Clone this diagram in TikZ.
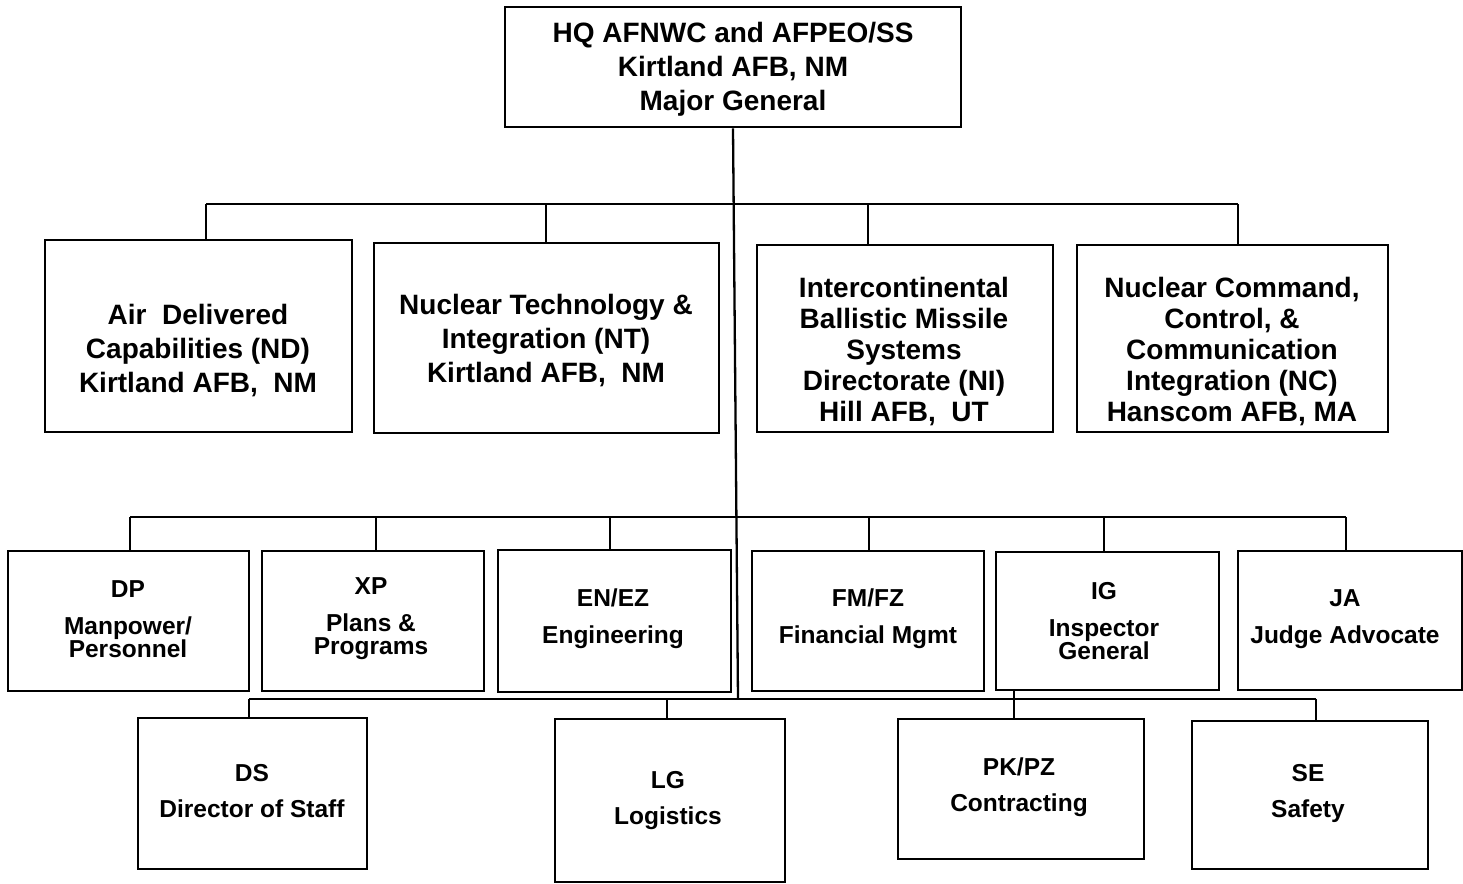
\documentclass[tikz,border=0pt]{standalone}
\usepackage{fontspec}
\setmainfont{Liberation Sans}
\newcommand\orgbox[5]{\node[box, minimum width={(#4-#2)*0.5pt}, minimum height={(#5-#3)*0.5pt}] (#1) at ({(#2+#4)/2},{(#3+#5)/2}) {};}
\begin{document}
\begin{tikzpicture}[x=0.5pt,y=-0.5pt,
  box/.style={draw=black, line width=1.4pt, inner sep=0pt, fill=white},
  conn/.style={draw=black, line width=1.15pt},
  bigl/.style={align=center, inner sep=0pt, font=\bfseries\fontsize{14}{17}\selectfont},
  bigt/.style={align=center, inner sep=0pt, font=\bfseries\fontsize{14}{15.5}\selectfont},
  smll/.style={align=center, inner sep=0pt, font=\bfseries\fontsize{12.25}{11.5}\selectfont}]
\useasboundingbox (0,0) rectangle (1463,884);
\fill[white] (0,0) rectangle (1463,884);
% coordinates of connectors
\coordinate (tk) at (738,699);
\coordinate (dnd) at (206,204);
\coordinate (dnt) at (546,204);
\coordinate (dni) at (868,204);
\coordinate (dnc) at (1238,204);
\coordinate (ddp) at (130,517);
\coordinate (dxp) at (376,517);
\coordinate (den) at (610,517);
\coordinate (dfm) at (869,517);
\coordinate (dig) at (1104,517);
\coordinate (dja) at (1346,517);
\coordinate (dds) at (249,699);
\coordinate (dlg) at (667,699);
\coordinate (dpk) at (1014,699);
\coordinate (dse) at (1316,699);
% boxes
\orgbox{hq}{505}{7}{961}{127}
\orgbox{nd}{45}{240}{352}{432}
\orgbox{nt}{374}{243}{719}{433}
\orgbox{ni}{757}{245}{1053}{432}
\orgbox{nc}{1077}{245}{1388}{432}
\orgbox{dp}{8}{551}{249}{691}
\orgbox{xp}{262}{551}{484}{691}
\orgbox{en}{498}{550}{731}{692}
\orgbox{fm}{752}{551}{984}{691}
\orgbox{ig}{996}{552}{1219}{690}
\orgbox{ja}{1238}{551}{1462}{690}
\orgbox{ds}{138}{718}{367}{869}
\orgbox{lg}{555}{719}{785}{882}
\orgbox{pk}{898}{719}{1144}{859}
\orgbox{se}{1192}{721}{1428}{869}
% connectors
\draw[conn] (hq.south) -- (tk);
\draw[conn] (dnd) -- (dnc);
\draw[conn] (dnd) -- (dnd |- nd.north);
\draw[conn] (dnt) -- (dnt |- nt.north);
\draw[conn] (dni) -- (dni |- ni.north);
\draw[conn] (dnc) -- (dnc |- nc.north);
\draw[conn] (ddp) -- (dja);
\draw[conn] (ddp) -- (ddp |- dp.north);
\draw[conn] (dxp) -- (dxp |- xp.north);
\draw[conn] (den) -- (den |- en.north);
\draw[conn] (dfm) -- (dfm |- fm.north);
\draw[conn] (dig) -- (dig |- ig.north);
\draw[conn] (dja) -- (dja |- ja.north);
\draw[conn] (dds) -- (dse);
\draw[conn] (dds) -- (dds |- ds.north);
\draw[conn] (dlg) -- (dlg |- lg.north);
\draw[conn] (dpk |- ig.south) -- (dpk |- pk.north);
\draw[conn] (dse) -- (dse |- se.north);
% labels
\node[bigl] (hq-t) at (733,69) {HQ AFNWC and AFPEO/SS\\Kirtland AFB, NM\\Major General};
\node[bigl] (nd-t) at (198,351) {Air\ \ Delivered\\Capabilities (ND)\\Kirtland AFB,\ \ NM};
\node[bigl] (nt-t) at (546,341) {Nuclear Technology \&\\Integration (NT)\\Kirtland AFB,\ \ NM};
\node[bigt] (ni-t) at (904,352) {Intercontinental\\Ballistic Missile\\Systems\\Directorate (NI)\\Hill AFB,\ \ UT};
\node[bigt] (nc-t) at (1232,352) {Nuclear Command,\\Control, \&\\Communication\\Integration (NC)\\Hanscom AFB, MA};
\node[smll] (dp-t) at (128,619) {DP\\[7pt]Manpower/\\Personnel};
\node[smll] (xp-t) at (371,619) {XP\\[7pt]Plans \&\\Programs};
\node[smll] (en-t) at (613,619) {EN/EZ\\[7pt]Engineering};
\node[smll] (fm-t) at (868,619) {FM/FZ\\[7pt]Financial Mgmt};
\node[smll] (ig-t) at (1104,621) {IG\\[7pt]Inspector\\General};
\node[smll] (ja-t) at (1345,619) {JA\\[7pt]Judge Advocate};
\node[smll] (ds-t) at (252,791) {DS\\[6.5pt]Director of Staff};
\node[smll] (lg-t) at (668,801) {LG\\[6.5pt]Logistics};
\node[smll] (pk-t) at (1019,787) {PK/PZ\\[6.5pt]Contracting};
\node[smll] (se-t) at (1308,793) {SE\\[6.5pt]Safety};
\end{tikzpicture}
\end{document}
